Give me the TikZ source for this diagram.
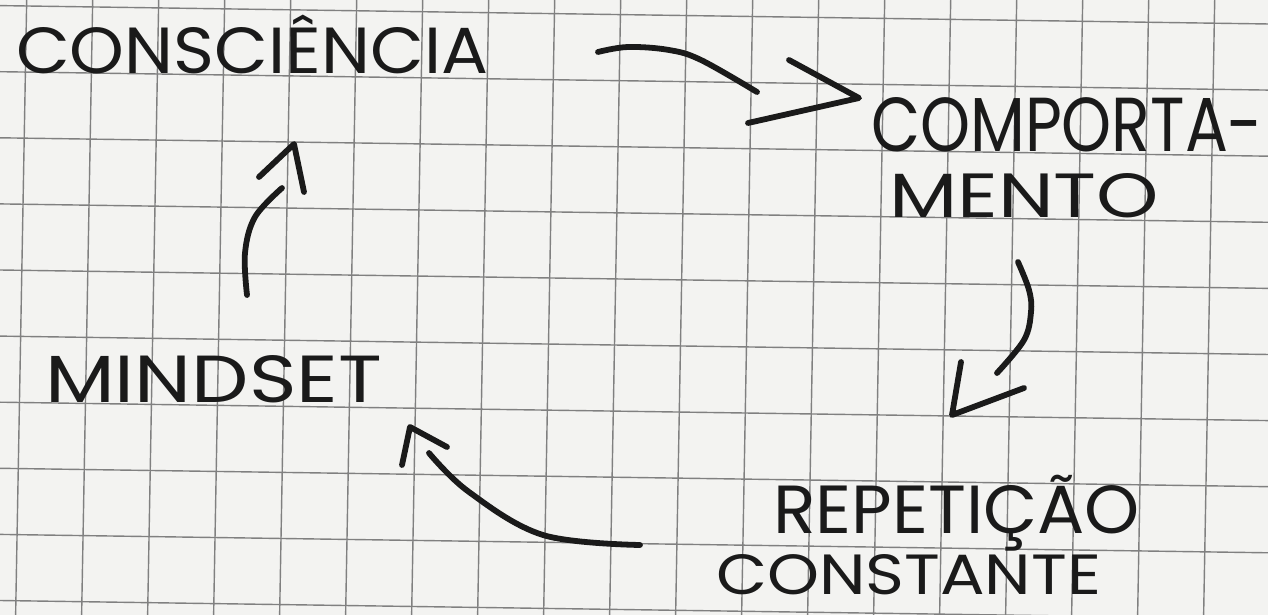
\documentclass[tikz,border=0pt]{standalone}
\usepackage{fontspec}
\setmainfont{Poppins}
\usepackage{graphicx}
\newdimen\px \px=0.02cm
\newcommand{\fitto}[3]{\resizebox{#1\px}{#2\px}{#3}}
\definecolor{paper}{HTML}{F3F3F1}
\definecolor{gridc}{HTML}{808080}
\definecolor{inkc}{HTML}{1A1A1A}
\tikzset{
  ink/.style={draw=inkc, line width=3.3pt, line cap=round, line join=round},
  gridline/.style={draw=gridc, line width=0.8pt},
  lbl/.style={inner sep=0pt, outer sep=0pt, anchor=base west, text=inkc}
}
\begin{document}
\begin{tikzpicture}[x=0.02cm, y=-0.02cm]
\useasboundingbox (0,0) rectangle (1268,615);
\fill[paper] (0,0) rectangle (1268,615);
\begin{scope}
\clip (0,0) rectangle (1268,615);
% vertical grid lines (slightly leaning)
\foreach \k in {-1,...,19} {
  \pgfmathsetmacro{\u}{26.7+66.0*\k}
  \draw[gridline] ({\u+0.018*20},-20) -- ({\u-0.018*640},640);
}
% horizontal grid lines (slightly tilted)
\foreach \j in {-1,...,10} {
  \pgfmathsetmacro{\v}{5.6+66.1*\j}
  \draw[gridline] (-20,{\v-0.0145*20}) -- (1290,{\v+0.0145*1290});
}
\end{scope}

% labels
\node[lbl] (consc) at (16,74) {\fitto{472}{46}{CONSCI\smash{Ê}NCIA}};
\node[lbl] (comp1) at (871,152) {\fitto{392}{54}{COMPORTA-}};
\node[lbl] (comp2) at (889,217) {\fitto{270}{44}{MENTO}};
\node[lbl] (mind) at (45,402) {\fitto{337}{47}{MINDSET}};
\node[lbl] (rep1) at (773,533) {\fitto{367}{48}{REPETI\smash{Ç}\smash{Ã}O}};
\node[lbl] (rep2) at (716,594) {\fitto{385}{40}{CONSTANTE}};

% arrow 1: consciencia -> comportamento
\coordinate (a1s) at (598,52);
\coordinate (a1e) at (757,92);
\coordinate (a1t) at (859,98);
\draw[ink] plot[smooth, tension=0.6] coordinates {(a1s) (628,47) (669,50) (701,60) (a1e)};
\draw[ink] (789,60) -- (a1t) -- (748,123);

% arrow 2: comportamento -> repeticao
\coordinate (a2s) at (1018,262);
\coordinate (a2e) at (997,373);
\coordinate (a2t) at (952,415);
\draw[ink] plot[smooth, tension=0.6] coordinates {(a2s) (1029,290) (1031,312) (1024,340) (a2e)};
\draw[ink] (961,362) -- (a2t) -- (1024,388);

% arrow 3: repeticao -> mindset
\coordinate (a3s) at (640,545);
\coordinate (a3e) at (429,453);
\coordinate (a3t) at (410,427);
\draw[ink] plot[smooth, tension=0.6] coordinates {(a3s) (543,535) (469,492) (a3e)};
\draw[ink] (402,465) -- (a3t) -- (447,447);

% arrow 4: mindset -> consciencia
\coordinate (a4s) at (247,295);
\coordinate (a4e) at (282,188);
\coordinate (a4t) at (294,144);
\draw[ink] plot[smooth, tension=0.6] coordinates {(a4s) (245,253) (255,217) (a4e)};
\draw[ink] (259,177) -- (a4t) -- (304,192);
\end{tikzpicture}
\end{document}
